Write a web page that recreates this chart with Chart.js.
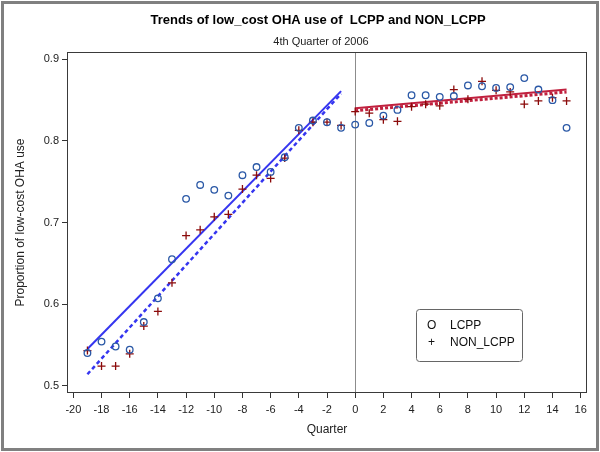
<!DOCTYPE html>
<html>
<head>
<meta charset="utf-8">
<script src="https://cdn.jsdelivr.net/npm/chart.js@4.4.0/dist/chart.umd.min.js"></script>
<style>
  html, body { margin: 0; padding: 0; background: #fff; }
  #wrap { width: 600px; height: 452px; position: relative; }
</style>
</head>
<body>
<div id="wrap"><canvas id="myChart" width="600" height="452"></canvas></div>
<script>
// quarters relative to 4th quarter 2006
const quarters = [-19, -18, -17, -16, -15, -14, -13, -12, -11, -10, -9, -8, -7, -6, -5, -4, -3, -2, -1,
  0, 1, 2, 3, 4, 5, 6, 7, 8, 9, 10, 11, 12, 13, 14, 15];
const lcpp = [0.540, 0.554, 0.548, 0.544, 0.578, 0.607, 0.655, 0.729, 0.746, 0.740, 0.733, 0.758, 0.768, 0.762, 0.780, 0.816, 0.825, 0.823, 0.816,
  0.820, 0.822, 0.831, 0.838, 0.856, 0.856, 0.854, 0.855, 0.868, 0.867, 0.865, 0.866, 0.877, 0.863, 0.850, 0.816];
const nonLcpp = [0.543, 0.524, 0.524, 0.539, 0.573, 0.591, 0.626, 0.684, 0.691, 0.707, 0.710, 0.741, 0.758, 0.754, 0.779, 0.813, 0.823, 0.823, 0.819,
  0.836, 0.834, 0.826, 0.824, 0.842, 0.845, 0.843, 0.863, 0.851, 0.873, 0.862, 0.860, 0.845, 0.849, 0.853, 0.849];

// fitted trend line end points (pre / post)
const preX = [-19, -1];
const postX = [0, 15];
const lcppFitPre = [0.545, 0.861];
const nonFitPre = [0.514, 0.858];
const lcppFitPost = [0.840, 0.863];
const nonFitPost = [0.837, 0.860];

const xTickLabels = [-20, -18, -16, -14, -12, -10, -8, -6, -4, -2, 0, 2, 4, 6, 8, 10, 12, 14, 16];
const yTickLabels = [0.5, 0.6, 0.7, 0.8, 0.9];

const FONT = '"Liberation Sans", Arial, sans-serif';

const pts = (xs, ys) => xs.map((x, i) => ({ x: x, y: ys[i] }));

const frame = {
  id: 'frame',
  beforeDraw(chart) {
    const ctx = chart.ctx;
    ctx.save();
    ctx.fillStyle = '#fff';
    ctx.fillRect(0, 0, chart.width, chart.height);
    ctx.strokeStyle = '#808080';
    ctx.lineWidth = 3;
    ctx.strokeRect(2.5, 2.5, chart.width - 5, chart.height - 5);
    ctx.restore();
  },
  beforeDatasetsDraw(chart) {
    const { ctx, chartArea: a, scales } = chart;
    const x0 = scales.x.getPixelForValue(0);
    ctx.save();
    ctx.strokeStyle = '#8c8c8c';
    ctx.lineWidth = 1;
    ctx.beginPath();
    ctx.moveTo(Math.round(x0) + 0.5, a.top);
    ctx.lineTo(Math.round(x0) + 0.5, a.bottom);
    ctx.stroke();
    ctx.restore();
  },
  afterDraw(chart) {
    const { ctx, chartArea: a } = chart;
    ctx.save();
    // plot frame
    ctx.strokeStyle = '#3a3a3a';
    ctx.lineWidth = 1;
    ctx.strokeRect(a.left + 0.5, a.top + 0.5, a.right - a.left - 1, a.bottom - a.top - 1);

    // titles
    ctx.fillStyle = '#000';
    ctx.textAlign = 'center';
    ctx.textBaseline = 'middle';
    ctx.font = 'bold 13px ' + FONT;
    ctx.fillText('Trends of low_cost OHA use of  LCPP and NON_LCPP', 318, 20);
    ctx.fillStyle = '#222';
    ctx.font = '11px ' + FONT;
    ctx.fillText('4th Quarter of 2006', 321, 42);

    // axis titles
    ctx.font = '12px ' + FONT;
    ctx.fillText('Quarter', (a.left + a.right) / 2, 430);
    ctx.save();
    ctx.translate(21, (a.top + a.bottom) / 2);
    ctx.rotate(-Math.PI / 2);
    ctx.fillText('Proportion of low-cost OHA use', 0, 0);
    ctx.restore();

    // legend box
    const bx = 416, by = 309, bw = 106, bh = 52;
    ctx.strokeStyle = '#666';
    ctx.lineWidth = 1;
    ctx.beginPath();
    ctx.roundRect(bx + 0.5, by + 0.5, bw, bh, 3);
    ctx.stroke();
    ctx.fillStyle = '#111';
    ctx.textAlign = 'left';
    ctx.font = '12px ' + FONT;
    ctx.fillText('O', 427, 326);
    ctx.fillText('LCPP', 450, 326);
    ctx.fillText('+', 428, 343);
    ctx.fillText('NON_LCPP', 450, 343);
    ctx.restore();
  }
};

const chartConfig = {
  type: 'scatter',
  data: {
    datasets: [
      {
        label: 'LCPP',
        data: pts(quarters, lcpp),
        pointStyle: 'circle',
        pointRadius: 3.3,
        pointBorderWidth: 1.3,
        borderColor: '#2a58a6',
        backgroundColor: 'rgba(0,0,0,0)'
      },
      {
        label: 'NON_LCPP',
        data: pts(quarters, nonLcpp),
        pointStyle: 'cross',
        pointRadius: 4,
        pointBorderWidth: 1.3,
        borderColor: '#8b0a0a',
        backgroundColor: 'rgba(0,0,0,0)'
      },
      {
        label: 'LCPP fit pre',
        data: pts(preX, lcppFitPre),
        showLine: true,
        pointRadius: 0,
        borderColor: '#3535f0',
        borderWidth: 2
      },
      {
        label: 'NON_LCPP fit pre',
        data: pts(preX, nonFitPre),
        showLine: true,
        pointRadius: 0,
        borderColor: '#3535f0',
        borderWidth: 2.5,
        borderDash: [4, 3]
      },
      {
        label: 'LCPP fit post',
        data: pts(postX, lcppFitPost),
        showLine: true,
        pointRadius: 0,
        borderColor: '#c0203e',
        borderWidth: 2
      },
      {
        label: 'NON_LCPP fit post',
        data: pts(postX, nonFitPost),
        showLine: true,
        pointRadius: 0,
        borderColor: '#c0203e',
        borderWidth: 3,
        borderDash: [3, 2]
      }
    ]
  },
  options: {
    responsive: false,
    animation: false,
    layout: { padding: { left: 0, top: 52, right: 13, bottom: 0 } },
    plugins: {
      legend: { display: false },
      title: { display: false },
      tooltip: { enabled: false }
    },
    scales: {
      x: {
        type: 'linear',
        min: -20.45,
        max: 16.45,
        afterFit(scale) { scale.height = 59; },
        afterBuildTicks(scale) { scale.ticks = xTickLabels.map(v => ({ value: v })); },
        border: { display: false },
        grid: { drawOnChartArea: false, drawTicks: true, tickLength: 5, color: '#333' },
        ticks: {
          padding: 5,
          color: '#222',
          font: { family: FONT, size: 11 },
          maxRotation: 0,
          callback: v => String(v)
        }
      },
      y: {
        type: 'linear',
        min: 0.491,
        max: 0.909,
        afterFit(scale) { scale.width = 67; },
        afterBuildTicks(scale) { scale.ticks = yTickLabels.map(v => ({ value: v })); },
        border: { display: false },
        grid: { drawOnChartArea: false, drawTicks: true, tickLength: 5, color: '#333' },
        ticks: {
          padding: 3,
          color: '#222',
          font: { family: FONT, size: 11 },
          callback: v => v.toFixed(1)
        }
      }
    }
  },
  plugins: [frame]
};

const myChart = new Chart(document.getElementById('myChart').getContext('2d'), chartConfig);
</script>
</body>
</html>
